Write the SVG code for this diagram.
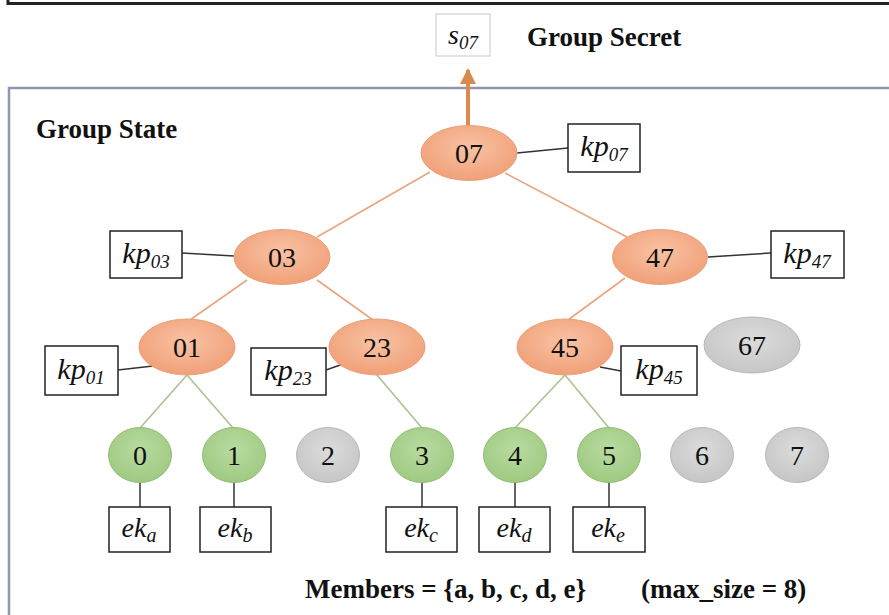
<svg xmlns="http://www.w3.org/2000/svg" width="889" height="615" viewBox="0 0 889 615">
<defs>
<radialGradient id="gOr" cx="50%" cy="40%" r="60%"><stop offset="0" stop-color="#f9c2a4"/><stop offset="1" stop-color="#f0a078"/></radialGradient>
<radialGradient id="gGr" cx="50%" cy="40%" r="60%"><stop offset="0" stop-color="#b9dba0"/><stop offset="1" stop-color="#9fca82"/></radialGradient>
<radialGradient id="gGy" cx="50%" cy="40%" r="60%"><stop offset="0" stop-color="#dcdcdc"/><stop offset="1" stop-color="#c6c6c6"/></radialGradient>
<marker id="arr" markerWidth="4" markerHeight="4" refX="3.5" refY="2" orient="auto" markerUnits="strokeWidth"><path d="M0,0 L4,2 L0,4 Z" fill="#d98a4e"/></marker>
</defs>
<style>
text{font-family:'Liberation Serif','Times New Roman',Tinos,'DejaVu Serif',serif}
.or{fill:url(#gOr);stroke:#e9a07a;stroke-width:1}
.gr{fill:url(#gGr);stroke:#90bd72;stroke-width:1}
.gy{fill:url(#gGy);stroke:#b8b8b8;stroke-width:1}
.lbl{font-size:28px;fill:#111;text-anchor:middle}
.box{fill:#fff;stroke:#222;stroke-width:1.5}
.it{font-style:italic;fill:#111;text-anchor:middle}
.bold{font-weight:bold;font-size:27px;fill:#111}
.eo{stroke:#e9a57e;stroke-width:1.6;fill:none}
.eg{stroke:#a8c58e;stroke-width:1.6;fill:none}
.ek{stroke:#333;stroke-width:1.5;fill:none}
</style>
<rect width="889" height="615" fill="#fff"/>
<path d="M8,0 V3.5 H889" fill="none" stroke="#222" stroke-width="3"/>
<path d="M9,615 V88 H889" fill="none" stroke="#8e98aa" stroke-width="2.5"/>
<text class="bold" x="36" y="138">Group State</text>
<text class="bold" x="527" y="46">Group Secret</text>
<text class="bold" x="305" y="598">Members = {a, b, c, d, e}</text>
<text class="bold" x="641" y="598">(max_size = 8)</text>

<g id="connectors">
<line x1="468" y1="125" x2="468" y2="70" stroke="#d98a4e" stroke-width="4" marker-end="url(#arr)"/>
<line class="eo" x1="430" y1="172" x2="317" y2="237"/>
<line class="eo" x1="505" y1="173" x2="627" y2="237"/>
<line class="eo" x1="247" y1="280" x2="190" y2="320"/>
<line class="eo" x1="317" y1="280" x2="373" y2="320"/>
<line class="eo" x1="625" y1="278" x2="568" y2="320"/>
<line class="eg" x1="187" y1="375" x2="140" y2="428"/>
<line class="eg" x1="187" y1="375" x2="233" y2="428"/>
<line class="eg" x1="377" y1="375" x2="422" y2="428"/>
<line class="eg" x1="565" y1="375" x2="515" y2="428"/>
<line class="eg" x1="565" y1="375" x2="609" y2="428"/>
<line class="ek" x1="517" y1="153" x2="568" y2="148"/>
<line class="ek" x1="182" y1="253" x2="234" y2="256"/>
<line class="ek" x1="708" y1="257" x2="771" y2="253"/>
<line class="ek" x1="118" y1="370" x2="153" y2="366"/>
<line class="ek" x1="326" y1="370" x2="343" y2="364"/>
<line class="ek" x1="600" y1="367" x2="621" y2="371"/>
<line class="ek" x1="140" y1="482" x2="140" y2="507"/>
<line class="ek" x1="234" y1="482" x2="234" y2="507"/>
<line class="ek" x1="422" y1="482" x2="422" y2="507"/>
<line class="ek" x1="515" y1="482" x2="515" y2="507"/>
<line class="ek" x1="609" y1="482" x2="609" y2="507"/>
</g>

<g id="s07"><rect x="436" y="14" width="54" height="42" fill="#fff" stroke="#c8c8c8" stroke-width="1"/><text class="it" x="463" y="44" font-size="28">s<tspan font-size="19" dy="5">07</tspan></text></g>

<g id="n07"><ellipse class="or" cx="469" cy="153" rx="48" ry="27.5"/><text class="lbl" x="469" y="163">07</text></g>
<g id="n03"><ellipse class="or" cx="282" cy="257" rx="48" ry="27.5"/><text class="lbl" x="282" y="267">03</text></g>
<g id="n47"><ellipse class="or" cx="660" cy="257" rx="47.5" ry="27.5"/><text class="lbl" x="660" y="267">47</text></g>
<g id="n01"><ellipse class="or" cx="187" cy="347" rx="48" ry="28"/><text class="lbl" x="187" y="357">01</text></g>
<g id="n23"><ellipse class="or" cx="377" cy="347" rx="48" ry="28"/><text class="lbl" x="377" y="357">23</text></g>
<g id="n45"><ellipse class="or" cx="565" cy="347" rx="48" ry="28"/><text class="lbl" x="565" y="357">45</text></g>
<g id="n67"><ellipse class="gy" cx="752" cy="345" rx="48" ry="28"/><text class="lbl" x="752" y="355">67</text></g>

<g id="n0"><ellipse class="gr" cx="140" cy="455" rx="31.5" ry="27.5"/><text class="lbl" x="140" y="465">0</text></g>
<g id="n1"><ellipse class="gr" cx="234" cy="455" rx="31.5" ry="27.5"/><text class="lbl" x="234" y="465">1</text></g>
<g id="n2"><ellipse class="gy" cx="328" cy="455" rx="31.5" ry="27.5"/><text class="lbl" x="328" y="465">2</text></g>
<g id="n3"><ellipse class="gr" cx="422" cy="455" rx="31.5" ry="27.5"/><text class="lbl" x="422" y="465">3</text></g>
<g id="n4"><ellipse class="gr" cx="515" cy="455" rx="31.5" ry="27.5"/><text class="lbl" x="515" y="465">4</text></g>
<g id="n5"><ellipse class="gr" cx="609" cy="455" rx="31.5" ry="27.5"/><text class="lbl" x="609" y="465">5</text></g>
<g id="n6"><ellipse class="gy" cx="702" cy="455" rx="31.5" ry="27.5"/><text class="lbl" x="702" y="465">6</text></g>
<g id="n7"><ellipse class="gy" cx="797" cy="455" rx="31.5" ry="27.5"/><text class="lbl" x="797" y="465">7</text></g>

<g id="kp07"><rect class="box" x="568" y="124" width="72" height="48"/><text class="it" x="604" y="156" font-size="30">kp<tspan font-size="19" dy="5">07</tspan></text></g>
<g id="kp03"><rect class="box" x="110" y="231" width="72" height="47"/><text class="it" x="146" y="263" font-size="30">kp<tspan font-size="19" dy="5">03</tspan></text></g>
<g id="kp47"><rect class="box" x="771" y="231" width="73" height="47"/><text class="it" x="807" y="263" font-size="30">kp<tspan font-size="19" dy="5">47</tspan></text></g>
<g id="kp01"><rect class="box" x="45" y="346" width="73" height="49"/><text class="it" x="81" y="379" font-size="30">kp<tspan font-size="19" dy="5">01</tspan></text></g>
<g id="kp23"><rect class="box" x="251" y="348" width="75" height="47"/><text class="it" x="288" y="380" font-size="30">kp<tspan font-size="19" dy="5">23</tspan></text></g>
<g id="kp45"><rect class="box" x="621" y="346" width="76" height="49"/><text class="it" x="659" y="379" font-size="30">kp<tspan font-size="19" dy="5">45</tspan></text></g>

<g id="eka"><rect class="box" x="109" y="507" width="61" height="45"/><text class="it" x="139" y="537" font-size="28">ek<tspan font-size="20" dy="5">a</tspan></text></g>
<g id="ekb"><rect class="box" x="200" y="507" width="71" height="45"/><text class="it" x="235" y="537" font-size="28">ek<tspan font-size="20" dy="5">b</tspan></text></g>
<g id="ekc"><rect class="box" x="386" y="507" width="71" height="45"/><text class="it" x="421" y="537" font-size="28">ek<tspan font-size="20" dy="5">c</tspan></text></g>
<g id="ekd"><rect class="box" x="479" y="507" width="71" height="45"/><text class="it" x="514" y="537" font-size="28">ek<tspan font-size="20" dy="5">d</tspan></text></g>
<g id="eke"><rect class="box" x="573" y="507" width="72" height="45"/><text class="it" x="608" y="537" font-size="28">ek<tspan font-size="20" dy="5">e</tspan></text></g>
</svg>
